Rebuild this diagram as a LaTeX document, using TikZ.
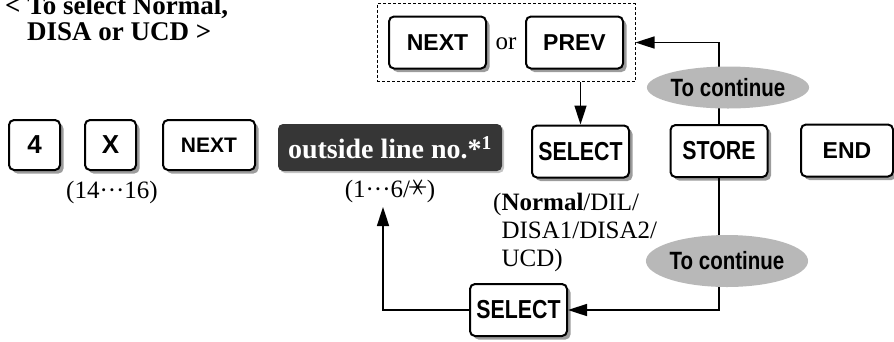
\documentclass[tikz,border=0pt]{standalone}
\usepackage{graphicx}
\usepackage{fontspec}
\setmainfont{Liberation Serif}
\setsansfont{Liberation Sans}
\newfontfamily\kpnarrow[FakeStretch=0.82]{Liberation Sans}
\newfontfamily\kpsymbol{Noto Sans CJK JP}
\usetikzlibrary{arrows.meta,fit,positioning,shadows,shapes.geometric}
\definecolor{kpink}{HTML}{000000}
\definecolor{kpshade}{HTML}{9C9C9C}
\definecolor{kpdark}{HTML}{363636}
\definecolor{kpoval}{HTML}{B8B8B8}
\tikzset{
  kp key/.style={draw=kpink, line width=2pt, rounded corners=5pt, fill=white,
    drop shadow={shadow xshift=3.5pt, shadow yshift=-3.5pt, fill=kpshade, opacity=1},
    minimum width=97pt, minimum height=52pt, inner sep=0pt,
    font=\sffamily\bfseries\fontsize{23}{23}\selectfont},
  kp square/.style={kp key, minimum width=51pt, minimum height=50pt,
    font=\sffamily\bfseries\fontsize{26}{26}\selectfont},
  kp narrow/.style={font=\kpnarrow\bfseries\fontsize{26}{26}\selectfont},
  kp display/.style={fill=kpdark, rounded corners=5pt, text=white, inner sep=0pt,
    drop shadow={shadow xshift=2pt, shadow yshift=-2pt, fill=kpshade!60, opacity=1},
    minimum width=224pt, minimum height=47pt,
    font=\rmfamily\bfseries\fontsize{28}{28}\selectfont},
  kp oval/.style={ellipse, fill=kpoval, inner sep=0pt, minimum width=150pt,
    font=\kpnarrow\bfseries\fontsize{25}{25}\selectfont},
  kp note/.style={inner sep=0pt, font=\rmfamily\fontsize{25}{28}\selectfont},
  kp title/.style={inner sep=0pt, anchor=base west,
    font=\rmfamily\bfseries\fontsize{27}{27}\selectfont},
  kp group/.style={draw=kpink, line width=1pt, dash pattern=on 3pt off 2pt},
  kp line/.style={draw=kpink, line width=1.6pt},
  kp arrow/.style={kp line, -{Triangle[length=19pt,width=12pt]}}
}

\begin{document}
\begin{tikzpicture}[x=1pt, y=-1pt]
  \useasboundingbox (0,0) rectangle (894,341);

  \node[kp title] (titleA) at (5,14) {< To select Normal,};
  \node[kp title] (titleB) at (27,40) {DISA or UCD >};

  \node[kp square] (four) at (34.5,145) {4};
  \node[kp square] (digitx) at (110.5,145) {X};
  \node[kp key, minimum width=92pt, minimum height=50pt,
    font=\sffamily\bfseries\fontsize{21}{21}\selectfont] (nextkey) at (209,145) {NEXT};
  \node[kp display] (lineno) at (390,147.5) {outside line no.*\textsuperscript{1}};
  \node[kp key, kp narrow] (select) at (580.5,151.5) {SELECT};
  \node[kp key, kp narrow] (store) at (719,151) {STORE};
  \node[kp key, minimum width=92pt] (endkey) at (847,150.5) {END};

  \node[kp key] (nextup) at (437.5,42.5) {NEXT};
  \node[kp key] (prevup) at (574.5,42.5) {PREV};
  \node[kp note] (ortext) at (506,44) {or};
  \node[kp group, fit=(nextup)(prevup), inner xsep=11pt, inner ysep=12pt] (choice) {};

  \node[kp note] (xrange) at (112,192) {(14···16)};
  \node[kp note] (linerange) at (390,190)
    {(1···6/\raisebox{-1pt}{\rotatebox{90}{\kpsymbol\fontsize{22}{22}\selectfont ＊}})};
  \node[kp note, align=left, anchor=north west] (modes) at (493,193)
    {(\textbf{Normal}/DIL/\\\hphantom{(}DISA1/DISA2/\\\hphantom{(}UCD)};

  \node[kp key, kp narrow] (selectlow) at (518.5,310) {SELECT};
  \coordinate (loopend) at (383,207);

  \draw[kp arrow] (store.north) |- (choice.east);
  \draw[kp arrow] (choice.south -| select) -- (select.north);
  \draw[kp arrow] (store.south) |- (selectlow.east);
  \draw[kp arrow] (selectlow.west) -| (loopend);

  \node[kp oval, minimum height=42pt] (contup) at (728,87.5) {To continue};
  \node[kp oval, minimum height=52pt] (contdown) at (727,261) {To continue};
\end{tikzpicture}
\end{document}
